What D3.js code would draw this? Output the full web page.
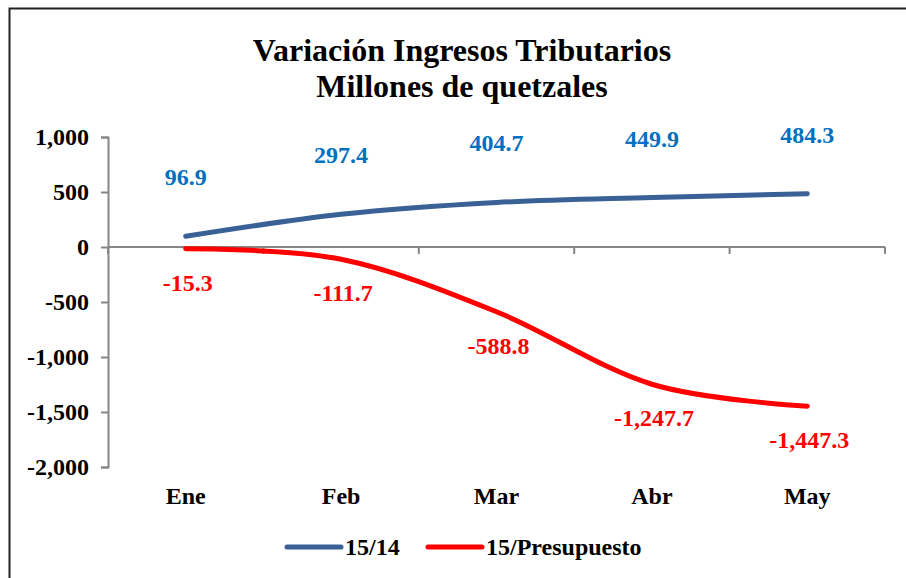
<!DOCTYPE html>
<html>
<head>
<meta charset="utf-8">
<script src="https://cdn.jsdelivr.net/npm/d3@7"></script>
<style>
  body { margin: 0; background: #fff; }
  text { font-family: "Liberation Serif", "Times New Roman", serif; font-weight: bold; }
</style>
</head>
<body>
<div id="chart"></div>
<script>
var months = ["Ene", "Feb", "Mar", "Abr", "May"],
  serie1 = [96.9, 297.4, 404.7, 449.9, 484.3],
  serie2 = [-15.3, -111.7, -588.8, -1247.7, -1447.3],
  yTicks = [1000, 500, 0, -500, -1000, -1500, -2000],
  seriesNames = ["15/14", "15/Presupuesto"];

var W = 906, H = 578,
  margin = { top: 137, left: 108, right: 21, bottom: 111 },
  width = W - margin.left - margin.right,
  height = H - margin.top - margin.bottom;

// plain hyphen for negatives, as in the original
var fmt = function(d){ return d3.format(",.1f")(d).replace("\u2212", "-"); };
var fmtTick = function(d){ return d3.format(",")(d).replace("\u2212", "-"); };

var svg = d3.select("#chart").append("svg")
  .attr("width", W)
  .attr("height", H);

svg.append("rect")
  .attr("x", 9.5).attr("y", 8.5)
  .attr("width", W + 10).attr("height", H + 10)
  .attr("fill", "#fff")
  .attr("stroke", "#222")
  .attr("stroke-width", 2);

svg.append("text")
  .attr("x", 462).attr("y", 61)
  .attr("text-anchor", "middle")
  .style("font-size", "32px")
  .text("Variación Ingresos Tributarios");
svg.append("text")
  .attr("x", 462).attr("y", 97)
  .attr("text-anchor", "middle")
  .style("font-size", "32px")
  .text("Millones de quetzales");

var g = svg.append("g")
  .attr("transform", "translate(" + margin.left + "," + margin.top + ")");

var x = d3.scaleBand().domain(months).range([0, width]);
var y = d3.scaleLinear().domain([-2000, 1000]).range([height, 0]);

// y axis
var yAxis = g.append("g")
  .call(d3.axisLeft(y).tickValues(yTicks).tickSize(7).tickPadding(12)
    .tickFormat(fmtTick));
yAxis.select(".domain").attr("stroke", "#868686").attr("stroke-width", 2);
yAxis.selectAll(".tick line").attr("stroke", "#868686").attr("stroke-width", 2);
yAxis.selectAll(".tick text")
  .style("font-size", "24px")
  .style("font-family", "Liberation Serif, serif")
  .style("font-weight", "bold")
  .attr("fill", "#000");

// x axis at zero
var xAxis = g.append("g")
  .attr("transform", "translate(0," + y(0) + ")");
xAxis.append("line")
  .attr("x1", 0).attr("x2", width)
  .attr("stroke", "#868686").attr("stroke-width", 2);
xAxis.selectAll(".xt")
  .data(months.concat(["end"])).enter().append("line")
  .attr("x1", function(d, i){ return i < months.length ? x(d) : width; })
  .attr("x2", function(d, i){ return i < months.length ? x(d) : width; })
  .attr("y1", 0).attr("y2", 7)
  .attr("stroke", "#868686").attr("stroke-width", 2);

g.selectAll(".month")
  .data(months).enter().append("text")
  .attr("x", function(d){ return x(d) + x.bandwidth()/2; })
  .attr("y", height + 37)
  .attr("text-anchor", "middle")
  .style("font-size", "24px")
  .text(function(d){ return d; });

var line = d3.line()
  .x(function(d, i){ return x(months[i]) + x.bandwidth()/2; })
  .y(function(d){ return y(d); })
  .curve(d3.curveCardinal.tension(0));

g.append("path")
  .datum(serie1)
  .attr("d", line)
  .attr("fill", "none")
  .attr("stroke", "#3A6195")
  .attr("stroke-width", 5)
  .attr("stroke-linecap", "round");

g.append("path")
  .datum(serie2)
  .attr("d", line)
  .attr("fill", "none")
  .attr("stroke", "#FF0000")
  .attr("stroke-width", 5)
  .attr("stroke-linecap", "round");

g.selectAll(".lab1")
  .data(serie1).enter().append("text")
  .attr("x", function(d, i){ return x(months[i]) + x.bandwidth()/2; })
  .attr("y", function(d){ return y(d) - 51; })
  .attr("text-anchor", "middle")
  .attr("fill", "#0070C0")
  .style("font-size", "24px")
  .text(function(d){ return fmt(d); });

g.selectAll(".lab2")
  .data(serie2).enter().append("text")
  .attr("x", function(d, i){ return x(months[i]) + x.bandwidth()/2 + 2; })
  .attr("y", function(d){ return y(d) + 42; })
  .attr("text-anchor", "middle")
  .attr("fill", "#FF0000")
  .style("font-size", "24px")
  .text(function(d){ return fmt(d); });

// legend
var legend = svg.append("g");
var lx = [287, 428], lcol = ["#3A6195", "#FF0000"];
seriesNames.forEach(function(n, i){
  legend.append("line")
    .attr("x1", lx[i]).attr("x2", lx[i] + 54)
    .attr("y1", 547).attr("y2", 547)
    .attr("stroke", lcol[i]).attr("stroke-width", 5)
    .attr("stroke-linecap", "round");
  legend.append("text")
    .attr("x", lx[i] + 58).attr("y", 555)
    .style("font-size", "24px")
    .text(n);
});
</script>
</body>
</html>
